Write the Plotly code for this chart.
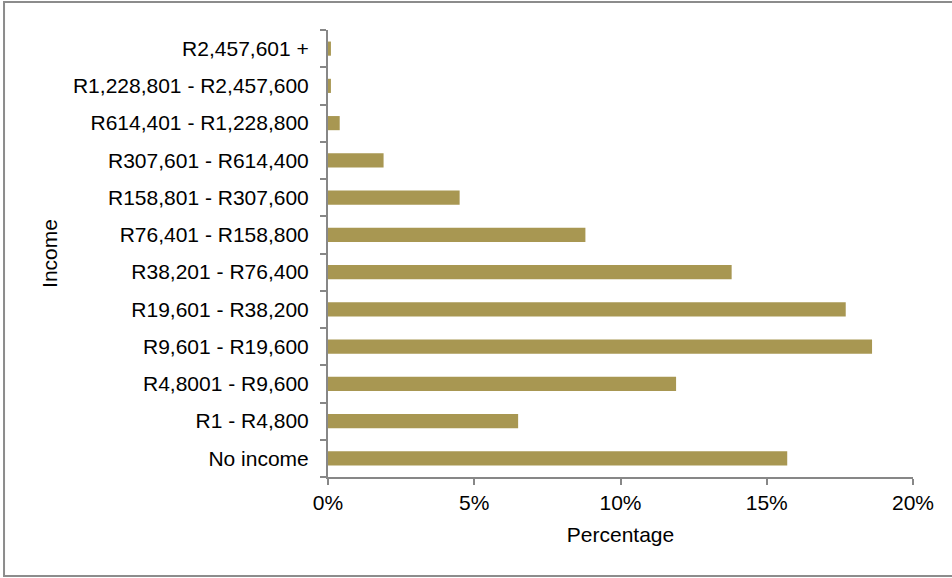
import plotly.graph_objects as go

# Income bands, listed bottom to top
income_bands = [
    "No income",
    "R1 - R4,800",
    "R4,8001 - R9,600",
    "R9,601 - R19,600",
    "R19,601 - R38,200",
    "R38,201 - R76,400",
    "R76,401 - R158,800",
    "R158,801 - R307,600",
    "R307,601 - R614,400",
    "R614,401 - R1,228,800",
    "R1,228,801 - R2,457,600",
    "R2,457,601 +",
]

# Share of population in each band (%)
percentages = [15.7, 6.5, 11.9, 18.6, 17.7, 13.8, 8.8, 4.5, 1.9, 0.4, 0.1, 0.1]

x_tick_values = [0, 5, 10, 15, 20]
x_tick_labels = ["0%", "5%", "10%", "15%", "20%"]

FONT = "Liberation Sans, Arial, sans-serif"
AXIS_GREY = "#878787"
FS = 21

fig = go.Figure(
    go.Bar(
        x=percentages,
        y=income_bands,
        orientation="h",
        marker=dict(color="#a89752", line=dict(width=0)),
        hoverinfo="x+y",
    )
)

fig.update_layout(
    width=952,
    height=578,
    margin=dict(l=328, r=39, t=30, b=101),
    paper_bgcolor="white",
    plot_bgcolor="white",
    showlegend=False,
    bargap=0.62,
    font=dict(family=FONT, size=FS, color="#000000"),
)

fig.update_xaxes(
    range=[0, 20],
    tickvals=x_tick_values,
    ticktext=x_tick_labels,
    showgrid=False,
    zeroline=False,
    showline=True,
    linecolor=AXIS_GREY,
    linewidth=2,
    ticks="outside",
    ticklen=6,
    tickwidth=2,
    tickcolor=AXIS_GREY,
    tickfont=dict(size=FS),
    title=dict(text="Percentage", font=dict(size=FS), standoff=14),
    automargin=False,
    fixedrange=True,
)

fig.update_yaxes(
    type="category",
    categoryorder="array",
    categoryarray=income_bands,
    showgrid=False,
    zeroline=False,
    showline=True,
    linecolor=AXIS_GREY,
    linewidth=2,
    ticks="outside",
    tickson="boundaries",
    ticklen=6,
    tickwidth=2,
    tickcolor=AXIS_GREY,
    tickfont=dict(size=FS),
    ticklabelstandoff=13,
    title=dict(text="Income", font=dict(size=FS), standoff=10),
    automargin=False,
    fixedrange=True,
)

# Outer chart frame
fig.add_shape(
    type="rect",
    xref="paper",
    yref="paper",
    x0=-0.5538,
    x1=1.07,
    y0=-0.2215,
    y1=1.0626,
    line=dict(color="#8c8c8c", width=2),
    fillcolor="rgba(0,0,0,0)",
    layer="below",
)

fig.write_html("out.html")
